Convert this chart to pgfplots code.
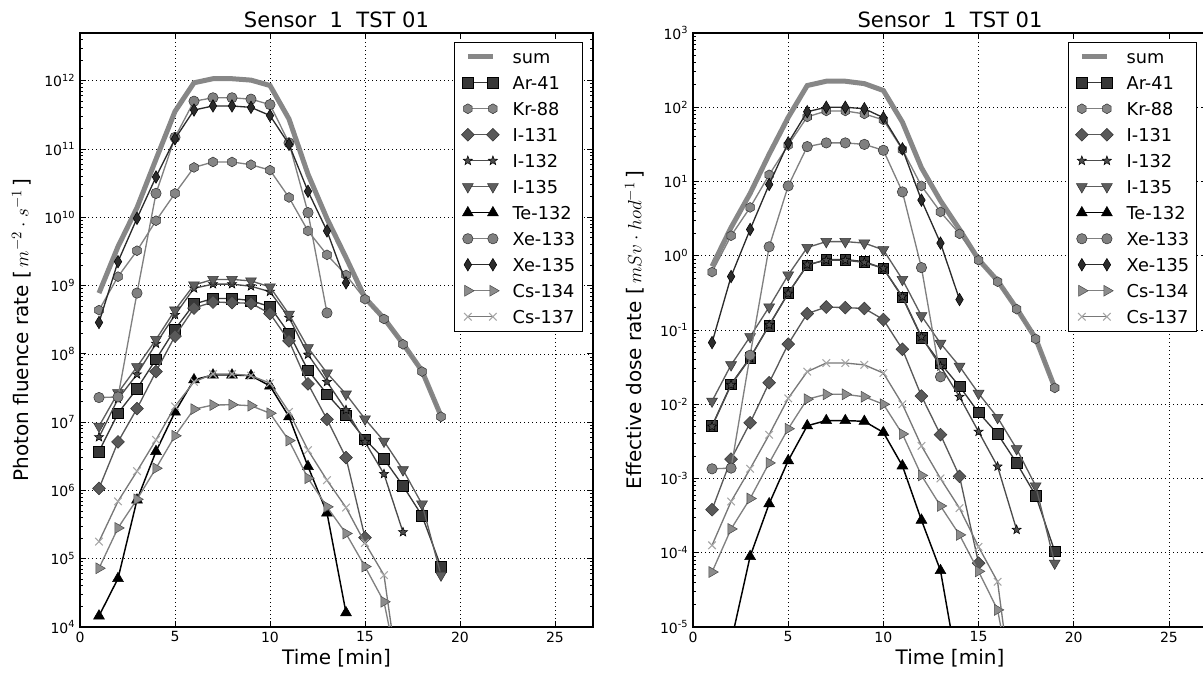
\documentclass[border=0pt]{standalone}
\usepackage{pgfplots}
\pgfplotsset{compat=1.18}
\usepackage{fontspec}
\setmainfont{DejaVu Sans}

\definecolor{cSum}{gray}{0.53}
\definecolor{cAr}{gray}{0.22}
\definecolor{cKr}{gray}{0.52}
\definecolor{cKrL}{gray}{0.50}
\definecolor{cIa}{gray}{0.35}
\definecolor{cIb}{gray}{0.30}
\definecolor{cIc}{gray}{0.37}
\definecolor{cXa}{gray}{0.50}
\definecolor{cXb}{gray}{0.17}
\definecolor{cCa}{gray}{0.55}
\definecolor{cCaL}{gray}{0.50}
\definecolor{cCb}{gray}{0.65}
\definecolor{cCbL}{gray}{0.47}

\pgfdeclareplotmark{hexagon*}{%
  \pgfpathmoveto{\pgfpointpolar{90}{\pgfplotmarksize}}%
  \pgfpathlineto{\pgfpointpolar{150}{\pgfplotmarksize}}%
  \pgfpathlineto{\pgfpointpolar{210}{\pgfplotmarksize}}%
  \pgfpathlineto{\pgfpointpolar{270}{\pgfplotmarksize}}%
  \pgfpathlineto{\pgfpointpolar{330}{\pgfplotmarksize}}%
  \pgfpathlineto{\pgfpointpolar{30}{\pgfplotmarksize}}%
  \pgfpathclose\pgfusepathqfillstroke}
\pgfdeclareplotmark{fstar*}{%
  \pgfpathmoveto{\pgfpointpolar{90}{\pgfplotmarksize}}%
  \pgfpathlineto{\pgfpointpolar{126}{0.42\pgfplotmarksize}}%
  \pgfpathlineto{\pgfpointpolar{162}{\pgfplotmarksize}}%
  \pgfpathlineto{\pgfpointpolar{198}{0.42\pgfplotmarksize}}%
  \pgfpathlineto{\pgfpointpolar{234}{\pgfplotmarksize}}%
  \pgfpathlineto{\pgfpointpolar{270}{0.42\pgfplotmarksize}}%
  \pgfpathlineto{\pgfpointpolar{306}{\pgfplotmarksize}}%
  \pgfpathlineto{\pgfpointpolar{342}{0.42\pgfplotmarksize}}%
  \pgfpathlineto{\pgfpointpolar{18}{\pgfplotmarksize}}%
  \pgfpathlineto{\pgfpointpolar{54}{0.42\pgfplotmarksize}}%
  \pgfpathclose\pgfusepathqfillstroke}
\pgfdeclareplotmark{sqdiamond*}{%
  \pgfpathmoveto{\pgfpoint{0pt}{\pgfplotmarksize}}%
  \pgfpathlineto{\pgfpoint{\pgfplotmarksize}{0pt}}%
  \pgfpathlineto{\pgfpoint{0pt}{-\pgfplotmarksize}}%
  \pgfpathlineto{\pgfpoint{-\pgfplotmarksize}{0pt}}%
  \pgfpathclose\pgfusepathqfillstroke}
\pgfdeclareplotmark{thindiamond*}{%
  \pgfpathmoveto{\pgfpoint{0pt}{\pgfplotmarksize}}%
  \pgfpathlineto{\pgfpoint{0.6\pgfplotmarksize}{0pt}}%
  \pgfpathlineto{\pgfpoint{0pt}{-\pgfplotmarksize}}%
  \pgfpathlineto{\pgfpoint{-0.6\pgfplotmarksize}{0pt}}%
  \pgfpathclose\pgfusepathqfillstroke}

\tikzset{
  stSum/.style={color=cSum, line width=3.75pt},
  stAr/.style={color=cAr, line width=1pt, mark=square*, mark size=4pt, mark options={fill=cAr, draw=black, line width=0.4pt, solid}},
  stKr/.style={color=cKrL, line width=1pt, mark=hexagon*, mark size=3.7pt, mark options={fill=cKr, draw=black!80, line width=0.4pt, solid}},
  stIa/.style={color=cIa, line width=1pt, mark=sqdiamond*, mark size=4.8pt, mark options={fill=cIa, draw=black!80, line width=0.4pt, solid}},
  stIb/.style={color=cIb, line width=1pt, mark=fstar*, mark size=3.6pt, mark options={fill=cIb, draw=black, line width=0.4pt, solid}},
  stIc/.style={color=cIc, line width=1pt, mark=triangle*, mark size=4.7pt, mark options={fill=cIc, draw=black!80, line width=0.4pt, solid, rotate=180}},
  stTe/.style={color=black, line width=1.1pt, mark=triangle*, mark size=4.7pt, mark options={fill=black, draw=black, line width=0.4pt, solid}},
  stXa/.style={color=cXa, line width=1pt, mark=*, mark size=3.9pt, mark options={fill=cXa, draw=black!80, line width=0.4pt, solid}},
  stXb/.style={color=cXb, line width=1pt, mark=thindiamond*, mark size=4.7pt, mark options={fill=cXb, draw=black, line width=0.4pt, solid}},
  stCa/.style={color=cCaL, line width=1pt, mark=triangle*, mark size=4.7pt, mark options={fill=cCa, draw=black!70, line width=0.4pt, solid, rotate=-90}},
  stCb/.style={color=cCbL, line width=1pt, mark=x, mark size=4pt, mark options={draw=cCb, line width=0.8pt, solid}},
}

\pgfplotsset{
  legend image code/.code={\draw[mark repeat=2,mark phase=1,#1] plot coordinates {(0pt,0pt)(9.4pt,0pt)(18.8pt,0pt)};},
  every axis title/.style={at={(axis description cs:0.5,1.0098)}, anchor=base, font=\fontsize{15.8}{18}\selectfont},
  every axis/.append style={
    scale only axis, width=384.75pt, height=445.5pt,
    xmin=0, xmax=27, xtick={0,5,10,15,20,25},
    /pgf/number format/assume math mode=true,
    ymode=log,
    grid=major,
    major grid style={black, dash pattern=on 0.8pt off 2.2pt, line width=0.5pt},
    tick align=inside, major tick length=4.5pt, minor tick length=2.3pt,
    every tick/.style={black, line width=0.6pt},
    axis line style={black, line width=0.8pt},
    ticklabel style={font=\fontsize{10.5}{12.5}\selectfont},
    yticklabel={10\textsuperscript{\pgfmathparse{int(round(\tick/2.302585093))}\pgfmathresult}},
    title={Sensor\ \ 1\ \ TST 01},
    label style={font=\fontsize{15}{17}\selectfont},
    xlabel={Time [min]},
    xlabel style={at={(axis description cs:0.5,-0.0628)}, anchor=base},
    ylabel style={at={(axis description cs:-0.114,0.5)}, anchor=center},
    clip marker paths=true,
    legend cell align=left,
    legend style={at={(0.9805,0.9853)}, anchor=north east, draw=black, line width=0.75pt, fill=white,
      font=\fontsize{13.3}{15}\selectfont, row sep=9.7pt, inner xsep=5.5pt, inner ysep=6pt,
      nodes={inner sep=0pt, text height=9.8pt, text depth=0pt},
      /tikz/every odd column/.append style={column sep=10pt}},
  }
}

\begin{document}
\begin{tikzpicture}
\begin{axis}[at={(60pt,34.5pt)}, anchor=south west, ymin=1e4, ymax=5e12,
  ylabel={Photon fluence rate [\,$m^{-2}\cdot s^{-1}$\,]}]
\addplot[stSum] coordinates {(1,7.76e8)(2,3.72e9)(3,1.38e10)(4,7.08e10)(5,3.55e11)(6,9.33e11)(7,1.07e12)(8,1.07e12)(9,1.02e12)(10,8.51e11)(11,2.75e11)(12,4.27e10)(13,9.55e9)(14,2.57e9)(15,6.61e8)(16,3.31e8)(17,1.41e8)(18,5.62e7)(19,1.23e7)};
\addlegendentry{sum}
\addplot[stAr] coordinates {(1,3.72e6)(2,1.35e7)(3,3.09e7)(4,8.32e7)(5,2.29e8)(6,5.37e8)(7,6.46e8)(8,6.46e8)(9,6.03e8)(10,4.90e8)(11,2.00e8)(12,5.75e7)(13,2.57e7)(14,1.26e7)(15,5.62e6)(16,2.88e6)(17,1.17e6)(18,4.27e5)(19,7.59e4)};
\addlegendentry{Ar-41}
\addplot[stKr] coordinates {(1,4.37e8)(2,1.35e9)(3,3.24e9)(4,8.91e9)(5,2.24e10)(6,5.37e10)(7,6.46e10)(8,6.46e10)(9,5.89e10)(10,4.90e10)(11,1.95e10)(12,6.31e9)(13,2.82e9)(14,1.43e9)(15,6.31e8)(16,3.24e8)(17,1.38e8)(18,5.50e7)(19,1.20e7)};
\addlegendentry{Kr-88}
\addplot[stIa] coordinates {(1,1.07e6)(2,5.13e6)(3,1.58e7)(4,5.50e7)(5,1.82e8)(6,4.68e8)(7,5.75e8)(8,5.62e8)(9,5.50e8)(10,3.89e8)(11,1.55e8)(12,3.63e7)(13,1.10e7)(14,3.02e6)(15,2.04e5)};
\addlegendentry{I-131}
\addplot[stIb] coordinates {(1,6.03e6)(2,2.19e7)(3,5.01e7)(4,1.41e8)(5,3.72e8)(6,9.12e8)(7,1.05e9)(8,1.05e9)(9,9.77e8)(10,8.13e8)(11,3.39e8)(12,9.77e7)(13,3.89e7)(14,1.51e7)(15,5.13e6)(16,1.74e6)(17,2.45e5)};
\addlegendentry{I-132}
\addplot[stIc] coordinates {(1,8.71e6)(2,2.69e7)(3,6.46e7)(4,1.62e8)(5,4.37e8)(6,1.02e9)(7,1.23e9)(8,1.23e9)(9,1.17e9)(10,9.55e8)(11,3.80e8)(12,1.23e8)(13,5.25e7)(14,2.57e7)(15,1.11e7)(16,5.25e6)(17,2.00e6)(18,6.31e5)(19,5.75e4)};
\addlegendentry{I-135}
\addplot[stTe] coordinates {(1,1.45e4)(2,5.13e4)(3,7.24e5)(4,3.72e6)(5,1.41e7)(6,4.17e7)(7,4.90e7)(8,4.90e7)(9,4.79e7)(10,3.39e7)(11,1.20e7)(12,2.24e6)(13,4.68e5)(14,1.62e4)};
\addlegendentry{Te-132}
\addplot[stXa] coordinates {(1,2.29e7)(2,2.34e7)(3,7.76e8)(4,2.24e10)(5,1.48e11)(6,5.01e11)(7,5.62e11)(8,5.62e11)(9,5.37e11)(10,4.47e11)(11,1.23e11)(12,1.17e10)(13,3.98e8)};
\addlegendentry{Xe-133}
\addplot[stXb] coordinates {(1,2.88e8)(2,2.24e9)(3,9.66e9)(4,3.89e10)(5,1.41e11)(6,3.72e11)(7,4.27e11)(8,4.27e11)(9,4.07e11)(10,3.09e11)(11,1.17e11)(12,2.40e10)(13,6.31e9)(14,1.10e9)};
\addlegendentry{Xe-135}
\addplot[stCa] coordinates {(1,7.24e4)(2,2.82e5)(3,7.41e5)(4,2.11e6)(5,6.31e6)(6,1.55e7)(7,1.78e7)(8,1.80e7)(9,1.74e7)(10,1.35e7)(11,5.37e6)(12,1.51e6)(13,5.75e5)(14,2.34e5)(15,7.67e4)(16,2.34e4)(17,1.0e3)};
\addlegendentry{Cs-134}
\addplot[stCb] coordinates {(1,1.78e5)(2,6.92e5)(3,1.91e6)(4,5.50e6)(5,1.70e7)(6,3.89e7)(7,5.07e7)(8,5.07e7)(9,4.79e7)(10,3.72e7)(11,1.41e7)(12,3.89e6)(13,1.41e6)(14,5.62e5)(15,1.70e5)(16,5.75e4)(17,6.3e2)};
\addlegendentry{Cs-137}
\end{axis}

\begin{axis}[at={(519.75pt,34.5pt)}, anchor=south west, width=385.5pt, ymin=1e-5, ymax=1e3,
  ylabel={Effective dose rate [\,$mSv\cdot hod^{-1}$\,]}]
\addplot[stSum] coordinates {(1,0.72)(2,2.4)(3,6.9)(4,23.3)(5,73)(6,196)(7,224)(8,224)(9,208)(10,168)(11,63)(12,15.3)(13,5.5)(14,2.27)(15,0.89)(16,0.46)(17,0.195)(18,0.077)(19,0.0168)};
\addlegendentry{sum}
\addplot[stAr] coordinates {(1,5.13e-3)(2,0.0186)(3,0.0427)(4,0.115)(5,0.316)(6,0.741)(7,0.891)(8,0.891)(9,0.832)(10,0.676)(11,0.275)(12,0.0794)(13,0.0355)(14,0.0174)(15,7.76e-3)(16,3.98e-3)(17,1.62e-3)(18,5.89e-4)(19,1.05e-4)};
\addlegendentry{Ar-41}
\addplot[stKr] coordinates {(1,0.603)(2,1.86)(3,4.47)(4,12.3)(5,30.9)(6,74.1)(7,89.1)(8,89.1)(9,81.3)(10,67.6)(11,26.9)(12,8.71)(13,3.89)(14,1.97)(15,0.871)(16,0.447)(17,0.191)(18,0.0759)(19,0.0166)};
\addlegendentry{Kr-88}
\addplot[stIa] coordinates {(1,3.80e-4)(2,1.82e-3)(3,5.62e-3)(4,0.0195)(5,0.0646)(6,0.166)(7,0.204)(8,0.200)(9,0.195)(10,0.138)(11,0.0550)(12,0.0129)(13,3.89e-3)(14,1.07e-3)(15,7.24e-5)};
\addlegendentry{I-131}
\addplot[stIb] coordinates {(1,5.01e-3)(2,0.0182)(3,0.0417)(4,0.117)(5,0.309)(6,0.759)(7,0.871)(8,0.871)(9,0.813)(10,0.676)(11,0.282)(12,0.0813)(13,0.0324)(14,0.0126)(15,4.27e-3)(16,1.45e-3)(17,2.04e-4)};
\addlegendentry{I-132}
\addplot[stIc] coordinates {(1,0.011)(2,0.0339)(3,0.0813)(4,0.204)(5,0.550)(6,1.29)(7,1.55)(8,1.55)(9,1.48)(10,1.20)(11,0.479)(12,0.155)(13,0.0661)(14,0.0324)(15,0.0140)(16,6.61e-3)(17,2.51e-3)(18,7.94e-4)(19,7.24e-5)};
\addlegendentry{I-135}
\addplot[stTe] coordinates {(1,1.78e-6)(2,6.31e-6)(3,8.91e-5)(4,4.57e-4)(5,1.74e-3)(6,5.13e-3)(7,6.03e-3)(8,6.03e-3)(9,5.89e-3)(10,4.17e-3)(11,1.48e-3)(12,2.75e-4)(13,5.75e-5)(14,2.0e-6)};
\addlegendentry{Te-132}
\addplot[stXa] coordinates {(1,1.35e-3)(2,1.38e-3)(3,0.0457)(4,1.32)(5,8.71)(6,29.5)(7,33.1)(8,33.1)(9,31.6)(10,26.3)(11,7.24)(12,0.692)(13,0.0234)};
\addlegendentry{Xe-133}
\addplot[stXb] coordinates {(1,0.0676)(2,0.525)(3,2.26)(4,9.12)(5,33.1)(6,87.1)(7,100)(8,100)(9,95.5)(10,72.4)(11,27.5)(12,5.62)(13,1.48)(14,0.257)};
\addlegendentry{Xe-135}
\addplot[stCa] coordinates {(1,5.50e-5)(2,2.09e-4)(3,5.37e-4)(4,1.62e-3)(5,4.68e-3)(6,0.0117)(7,0.0136)(8,0.0136)(9,0.0126)(10,0.0100)(11,3.98e-3)(12,1.10e-3)(13,4.27e-4)(14,1.74e-4)(15,5.62e-5)(16,1.70e-5)(17,7.6e-7)};
\addlegendentry{Cs-134}
\addplot[stCb] coordinates {(1,1.26e-4)(2,4.90e-4)(3,1.35e-3)(4,3.89e-3)(5,0.0120)(6,0.0275)(7,0.0359)(8,0.0359)(9,0.0339)(10,0.0263)(11,0.0100)(12,2.75e-3)(13,1.0e-3)(14,3.98e-4)(15,1.20e-4)(16,4.07e-5)(17,4.5e-7)};
\addlegendentry{Cs-137}
\end{axis}
\pgfresetboundingbox
\useasboundingbox (0,0) rectangle (902.25pt,504.75pt);
\end{tikzpicture}
\end{document}
